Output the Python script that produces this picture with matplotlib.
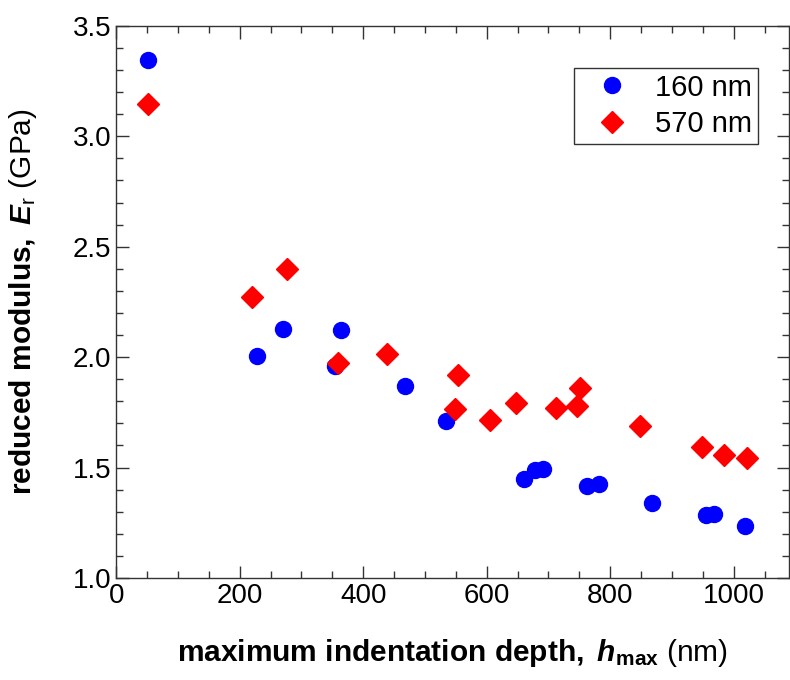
import numpy as np
import matplotlib
matplotlib.use("Agg")
import matplotlib.pyplot as plt
from matplotlib.ticker import MultipleLocator

# 160 nm film
h_160 = [52, 228, 271, 354, 364, 468, 535, 660, 678, 691, 762, 782, 867, 956, 969, 1018]
E_160 = [3.345, 2.006, 2.126, 1.962, 2.122, 1.868, 1.71, 1.45, 1.488, 1.495,
         1.415, 1.424, 1.341, 1.283, 1.288, 1.236]

# 570 nm film
h_570 = [51, 220, 277, 360, 439, 549, 554, 606, 648, 712, 747, 751, 848, 949, 985, 1021]
E_570 = [3.144, 2.273, 2.401, 1.975, 2.016, 1.763, 1.921, 1.714, 1.793, 1.77,
         1.778, 1.858, 1.687, 1.593, 1.559, 1.545]

plt.rcParams['font.family'] = ['Liberation Sans', 'DejaVu Sans']
plt.rcParams['mathtext.fontset'] = 'custom'
plt.rcParams['mathtext.rm'] = 'Liberation Sans'
plt.rcParams['mathtext.it'] = 'Liberation Sans:italic'
plt.rcParams['mathtext.bf'] = 'Liberation Sans:bold'
plt.rcParams['mathtext.bfit'] = 'Liberation Sans:bold:italic'

fig = plt.figure(figsize=(7.9, 6.8), dpi=100)
ax = fig.add_axes([0.147, 0.150, 0.852, 0.812])

ax.plot(h_160, E_160, 'o', color='#0000ff', ms=11.5, mec='#0000ff', label='160 nm', zorder=3)
ax.plot(h_570, E_570, 'D', color='#ff0000', ms=11.5, mec='#ff0000', label='570 nm', zorder=3)

ax.set_xlim(0, 1090)
ax.set_ylim(1.0, 3.5)
ax.xaxis.set_major_locator(MultipleLocator(200))
ax.xaxis.set_minor_locator(MultipleLocator(50))
ax.yaxis.set_major_locator(MultipleLocator(0.5))
ax.yaxis.set_minor_locator(MultipleLocator(0.1))
ax.yaxis.set_major_formatter(matplotlib.ticker.FormatStrFormatter('%.1f'))

ax.tick_params(which='both', direction='in', top=True, right=True, labelsize=20, color='#333333')
ax.tick_params(which='major', length=9, width=1)
ax.tick_params(which='minor', length=5, width=1)
for sp in ax.spines.values():
    sp.set_color('#333333')
    sp.set_linewidth(1)

ax.set_xlabel(r"$\mathbf{maximum\ indentation\ depth,}$ $\mathbfit{h}_{\mathbf{max}}$ (nm)",
              fontsize=21.5, labelpad=20)
ax.set_ylabel(r"$\mathbf{reduced\ modulus,}$ $\mathbfit{E}_{\mathrm{r}}$ (GPa)",
              fontsize=21.5, labelpad=24)

leg = ax.legend(loc='upper right', bbox_to_anchor=(0.954, 0.924), fontsize=21,
                frameon=True, fancybox=False, edgecolor='black', handletextpad=0.4,
                borderpad=0.2, labelspacing=0.3, handlelength=2.2, borderaxespad=0)
leg.get_frame().set_linewidth(1)

fig.savefig('out.png', dpi=100)
